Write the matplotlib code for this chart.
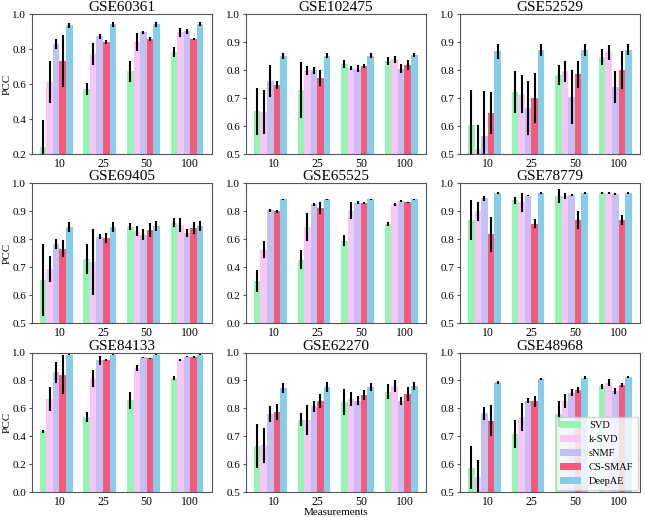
import numpy as np
import matplotlib
matplotlib.use('Agg')
import matplotlib.pyplot as plt
from matplotlib.transforms import blended_transform_factory

plt.rcParams['font.family'] = ['Liberation Serif', 'DejaVu Serif']

measurements = ['10', '25', '50', '100']
methods = ['SVD', 'k-SVD', 'sNMF', 'CS-SMAF', 'DeepAE']
colors = ['#95f5b5', '#fac6f8', '#c3c0f6', '#f7597b', '#86cdeb']

# rows = method (SVD, k-SVD, sNMF, CS-SMAF, DeepAE), cols = measurements
gse60361_mean = [[0.242, 0.573, 0.676, 0.785],
                 [0.611, 0.771, 0.842, 0.897],
                 [0.830, 0.876, 0.897, 0.903],
                 [0.733, 0.842, 0.859, 0.859],
                 [0.937, 0.943, 0.943, 0.945]]
gse60361_err = [[0.155, 0.037, 0.060, 0.027],
                [0.120, 0.063, 0.054, 0.025],
                [0.030, 0.015, 0.010, 0.013],
                [0.150, 0.013, 0.013, 0.007],
                [0.012, 0.012, 0.012, 0.012]]

gse102475_mean = [[0.653, 0.730, 0.823, 0.834],
                  [0.651, 0.800, 0.810, 0.840],
                  [0.762, 0.800, 0.806, 0.806],
                  [0.748, 0.773, 0.815, 0.818],
                  [0.852, 0.853, 0.853, 0.854]]
gse102475_err = [[0.085, 0.100, 0.015, 0.015],
                 [0.079, 0.015, 0.007, 0.013],
                 [0.057, 0.012, 0.012, 0.015],
                 [0.013, 0.030, 0.008, 0.018],
                 [0.010, 0.008, 0.010, 0.008]]

gse52529_mean = [[0.606, 0.722, 0.783, 0.848],
                 [0.518, 0.716, 0.797, 0.865],
                 [0.566, 0.665, 0.705, 0.740],
                 [0.648, 0.702, 0.786, 0.800],
                 [0.868, 0.873, 0.873, 0.874]]
gse52529_err = [[0.125, 0.075, 0.037, 0.028],
                [0.085, 0.068, 0.037, 0.027],
                [0.160, 0.098, 0.096, 0.058],
                [0.076, 0.090, 0.048, 0.068],
                [0.027, 0.022, 0.022, 0.020]]

gse69405_mean = [[0.655, 0.730, 0.845, 0.860],
                 [0.693, 0.718, 0.830, 0.850],
                 [0.784, 0.810, 0.817, 0.823],
                 [0.766, 0.805, 0.832, 0.840],
                 [0.843, 0.845, 0.847, 0.847]]
gse69405_err = [[0.130, 0.055, 0.013, 0.015],
                [0.047, 0.118, 0.017, 0.025],
                [0.018, 0.008, 0.020, 0.013],
                [0.030, 0.018, 0.025, 0.022],
                [0.018, 0.018, 0.017, 0.017]]

gse65525_mean = [[0.300, 0.455, 0.590, 0.710],
                 [0.525, 0.690, 0.805, 0.850],
                 [0.808, 0.850, 0.863, 0.877],
                 [0.800, 0.825, 0.860, 0.865],
                 [0.888, 0.888, 0.888, 0.888]]
gse65525_err = [[0.080, 0.068, 0.040, 0.015],
                [0.060, 0.100, 0.060, 0.012],
                [0.010, 0.012, 0.010, 0.007],
                [0.012, 0.045, 0.004, 0.005],
                [0.003, 0.004, 0.004, 0.004]]

gse78779_mean = [[0.868, 0.940, 0.955, 0.966],
                 [0.900, 0.932, 0.955, 0.965],
                 [0.947, 0.957, 0.960, 0.962],
                 [0.818, 0.856, 0.870, 0.869],
                 [0.966, 0.967, 0.967, 0.967]]
gse78779_err = [[0.072, 0.012, 0.024, 0.004],
                [0.035, 0.035, 0.010, 0.003],
                [0.010, 0.003, 0.004, 0.003],
                [0.063, 0.017, 0.033, 0.018],
                [0.004, 0.004, 0.004, 0.004]]

gse84133_mean = [[0.435, 0.540, 0.658, 0.818],
                 [0.668, 0.815, 0.890, 0.948],
                 [0.858, 0.945, 0.965, 0.970],
                 [0.840, 0.945, 0.960, 0.970],
                 [0.985, 0.985, 0.985, 0.985]]
gse84133_err = [[0.010, 0.035, 0.060, 0.015],
                [0.085, 0.063, 0.020, 0.008],
                [0.075, 0.032, 0.005, 0.004],
                [0.140, 0.005, 0.003, 0.007],
                [0.003, 0.003, 0.003, 0.004]]

gse62270_mean = [[0.665, 0.760, 0.822, 0.860],
                 [0.668, 0.758, 0.832, 0.880],
                 [0.780, 0.808, 0.828, 0.826],
                 [0.787, 0.826, 0.848, 0.850],
                 [0.873, 0.876, 0.877, 0.880]]
gse62270_err = [[0.080, 0.023, 0.047, 0.027],
                [0.062, 0.053, 0.025, 0.022],
                [0.027, 0.020, 0.017, 0.015],
                [0.028, 0.025, 0.017, 0.025],
                [0.017, 0.017, 0.015, 0.015]]

gse48968_mean = [[0.587, 0.708, 0.780, 0.879],
                 [0.553, 0.770, 0.825, 0.892],
                 [0.783, 0.828, 0.856, 0.862],
                 [0.756, 0.826, 0.866, 0.883],
                 [0.893, 0.905, 0.910, 0.912]]
gse48968_err = [[0.077, 0.050, 0.045, 0.010],
                [0.063, 0.050, 0.025, 0.013],
                [0.023, 0.010, 0.013, 0.010],
                [0.056, 0.020, 0.012, 0.008],
                [0.006, 0.005, 0.005, 0.005]]

panels = [
    ('GSE60361', gse60361_mean, gse60361_err, 0.2),
    ('GSE102475', gse102475_mean, gse102475_err, 0.5),
    ('GSE52529', gse52529_mean, gse52529_err, 0.5),
    ('GSE69405', gse69405_mean, gse69405_err, 0.5),
    ('GSE65525', gse65525_mean, gse65525_err, 0.0),
    ('GSE78779', gse78779_mean, gse78779_err, 0.5),
    ('GSE84133', gse84133_mean, gse84133_err, 0.0),
    ('GSE62270', gse62270_mean, gse62270_err, 0.5),
    ('GSE48968', gse48968_mean, gse48968_err, 0.5),
]

fig, axes = plt.subplots(3, 3, figsize=(6.45, 5.17), dpi=100)
plt.subplots_adjust(left=0.049, right=0.992, top=0.972, bottom=0.048,
                    wspace=0.19, hspace=0.21)

x = np.arange(len(measurements))
w = 0.15
for ax, (title, mean, err, ymin) in zip(axes.flat, panels):
    for k, name in enumerate(methods):
        ax.bar(x + k * w, mean[k], w, yerr=err[k], color=colors[k], label=name,
               error_kw=dict(ecolor='k', elinewidth=1.5, capsize=0))
    ax.set_ylim(ymin, 1.0)
    step = 0.1 if ymin >= 0.5 else 0.2
    ax.set_yticks(np.round(np.arange(ymin, 1.0 + 1e-9, step), 1))
    ax.set_xticks(x + 2.5 * w)
    ax.set_xticklabels(measurements)
    ax.set_title(title, fontsize=11, pad=2)
    ax.tick_params(axis='x', length=0, labelsize=8.5, pad=2.5)
    ax.tick_params(axis='y', length=2.5, labelsize=8, pad=1.5, color='#555555')
    for s in ax.spines.values():
        s.set_color('#555555')

for ax in axes[:, 0]:
    ax.set_ylabel('PCC', fontsize=8)
    # pin the label near the figure's left edge so it is not clipped
    ax.yaxis.set_label_coords(12 / 645, 0.5,
                              transform=blended_transform_factory(fig.transFigure, ax.transAxes))
axes[2, 1].set_xlabel('Measurements', fontsize=8, labelpad=0)
axes[2, 2].legend(loc='lower right', fontsize=7.5, labelspacing=0.45,
                  borderaxespad=0.2, handlelength=2.0)

plt.savefig('out.png', dpi=100)
